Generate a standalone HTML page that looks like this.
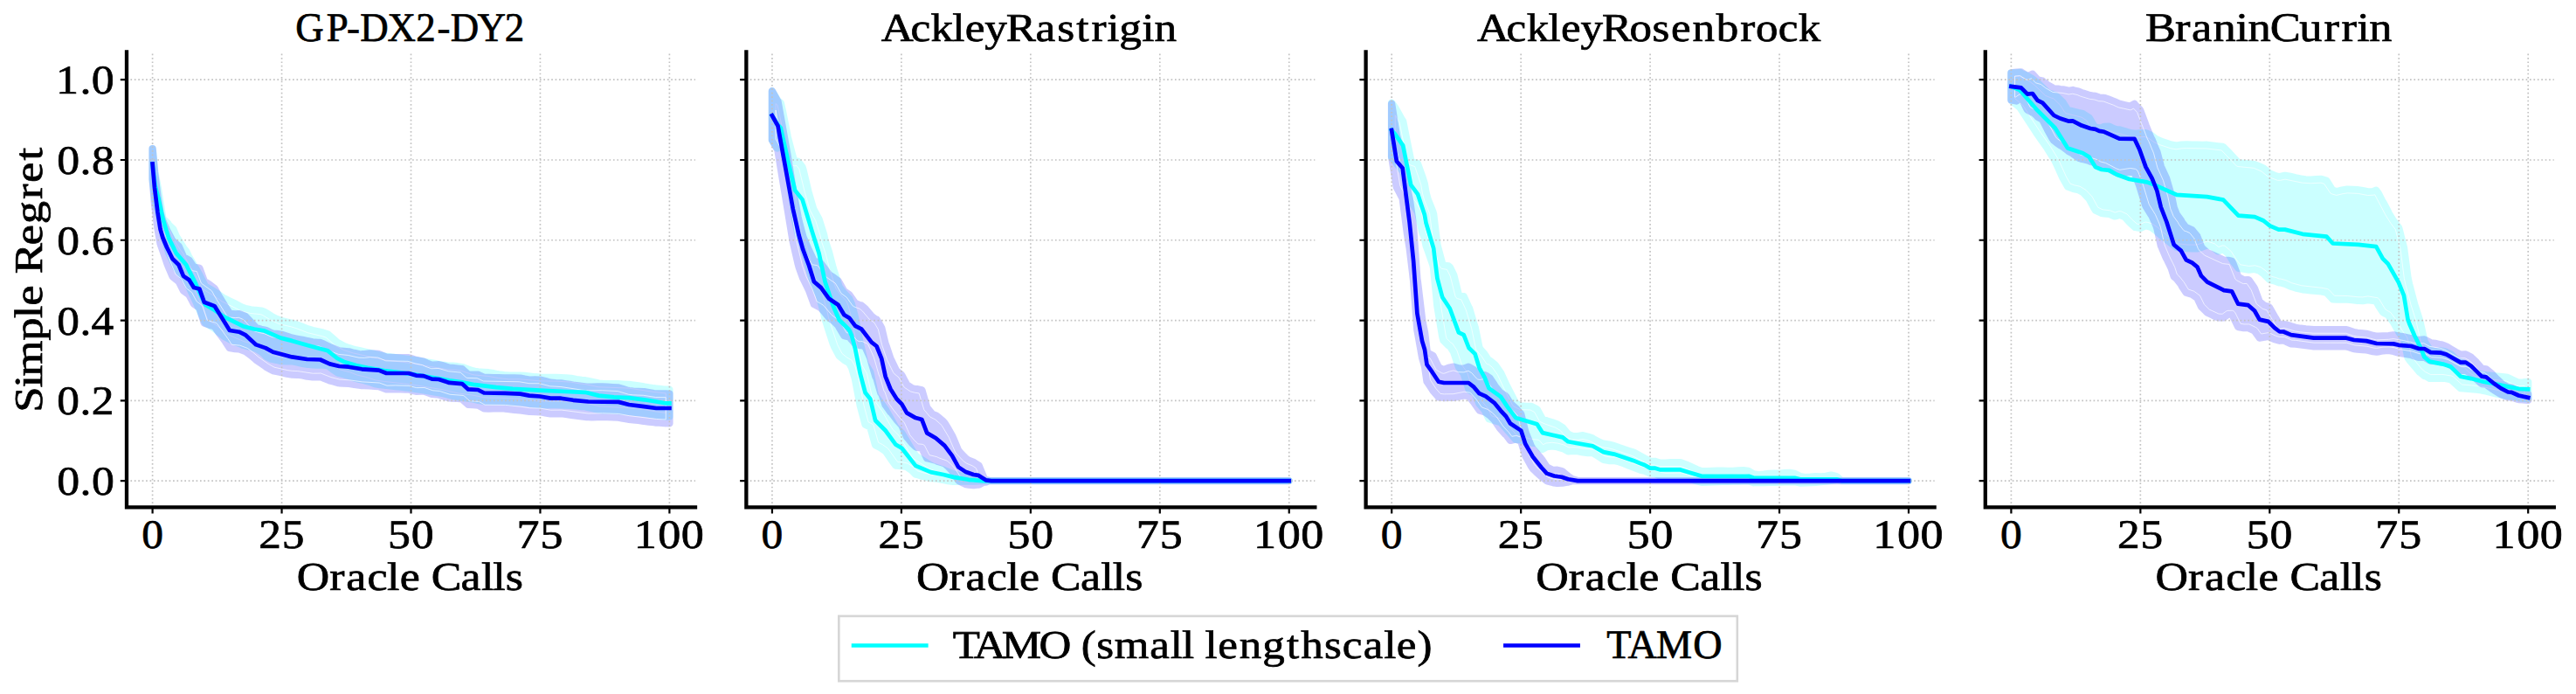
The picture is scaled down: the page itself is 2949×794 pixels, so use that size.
<!DOCTYPE html>
    <html lang="en"><head><meta charset="utf-8"><title>Simple Regret vs Oracle Calls</title>
    <style>html,body{margin:0;padding:0;background:#fff;}body{width:2949px;height:794px;overflow:hidden;font-family:"Liberation Serif",serif;}svg text{white-space:pre;text-rendering:geometricPrecision;}</style>
    </head><body>
    <svg width="2949" height="794" viewBox="0 0 2949 794" font-family="'Liberation Serif', serif" fill="#000" stroke="#000" stroke-width="0.7" style="display:block">
<rect x="0" y="0" width="2949" height="794" fill="#fff" stroke="none"/>
<g>
<path d="M174.6 170.06 L177.5 198.32 L180.52 213.66 L181.2 217.35 L186.44 250.06 L186.6 250.41 L192.35 255.74 L193.1 257.4 L198.27 262.03 L201.8 270.53 L204.19 274.32 L210.11 283.79 L213.2 287.64 L216.03 293.52 L221.94 303.64 L224 306.88 L227.86 313.74 L233.78 325.32 L234.8 327.54 L239.7 330.33 L245.6 333.92 L245.62 333.93 L251.53 338.01 L256.5 341.4 L257.45 341.86 L263.37 344.73 L265.1 345.56 L269.29 347.59 L275.21 350.6 L278.1 352.11 L281.12 352.95 L287.04 354.33 L291 354.85 L292.96 354.92 L298.88 355.53 L301.8 356.42 L304.8 358.15 L310.71 361.85 L316.63 364.86 L321.3 366.87 L322.55 367.18 L328.47 368.46 L334.3 369.8 L334.39 369.83 L340.3 371.62 L346.22 373.93 L352.14 376.28 L353.7 376.77 L358.06 378.04 L363.98 379.22 L369.89 380.67 L375.3 382.45 L375.81 382.9 L381.73 387.99 L386.1 391.78 L387.65 392.64 L393.57 395.89 L394.8 396.55 L399.48 398.11 L405.4 399.9 L407.7 400.44 L411.32 401.02 L417.24 402.43 L420.7 403.34 L423.16 403.88 L429.07 405.17 L434.99 406.46 L435.8 406.64 L440 407.54 L440.91 407.68 L446.83 408.41 L452.75 409.1 L458.66 409.83 L464.58 410.56 L467.7 410.92 L470.5 411.38 L476.42 412.4 L482.34 413.42 L488.25 414.39 L494.17 415.41 L500.09 416.43 L500.5 416.5 L506.01 417.53 L511.93 418.45 L514.4 418.65 L517.84 418.77 L523.76 419.25 L529 420.13 L529.68 420.27 L535.6 422.45 L541.52 424.4 L543.8 424.84 L547.43 425.31 L553.35 425.83 L559.27 426.27 L565.19 427.21 L568 427.83 L571.11 428.42 L577.02 429.22 L582.94 429.71 L587 429.75 L588.86 429.72 L594.78 429.6 L600.7 429.94 L606.61 430.56 L612.53 431.27 L618.1 431.68 L618.45 431.7 L624.37 431.89 L630.29 431.85 L636.2 431.95 L642.12 432.23 L647.5 432.49 L648.04 432.51 L653.96 432.95 L659.88 434.08 L665.79 434.97 L670 435.22 L671.71 435.68 L677.63 436.86 L683.55 438.17 L685.5 438.62 L689.47 438.97 L695.38 439.08 L701.3 439.05 L702.8 439.18 L707.22 439.28 L713.14 439.55 L719.06 439.87 L720.1 439.92 L724.97 440.51 L730.89 441.41 L736.81 442.41 L737.4 442.49 L742.73 443.41 L748.65 444.26 L751.3 444.53 L754.56 444.93 L760.48 445.59 L761.6 445.77 L766.4 445.7 L766.4 476.44 L761.6 476.59 L760.48 476.43 L754.56 475.67 L751.3 475.13 L748.65 474.73 L742.73 473.7 L737.4 472.65 L736.81 472.56 L730.89 472.02 L724.97 471.49 L720.1 470.93 L719.06 470.89 L713.14 470.57 L707.22 470.07 L702.8 469.86 L701.3 469.71 L695.38 469.55 L689.47 469.3 L685.5 468.92 L683.55 468.46 L677.63 467.01 L671.71 465.6 L670 465.17 L665.79 464.99 L659.88 464.46 L653.96 463.83 L648.04 463.53 L647.5 463.51 L642.12 463.25 L636.2 463.06 L630.29 463.1 L624.37 463.28 L618.45 463.14 L618.1 463.11 L612.53 462.71 L606.61 461.63 L600.7 460.69 L594.78 460.3 L588.86 460.1 L587 460.1 L582.94 459.99 L577.02 459.69 L571.11 459.3 L568 459.36 L565.19 459.33 L559.27 459.31 L553.35 458.78 L547.43 457.84 L543.8 457.04 L541.52 456.38 L535.6 455.54 L529.68 454.88 L529 454.75 L523.76 454.04 L517.84 452.82 L514.4 451.95 L511.93 451.22 L506.01 449.93 L500.5 448.9 L500.09 448.83 L494.17 447.9 L488.25 446.97 L482.34 446 L476.42 445.07 L470.5 444.14 L467.7 443.68 L464.58 443.32 L458.66 442.68 L452.75 442.05 L446.83 441.36 L440.91 440.73 L440 440.66 L435.8 440.16 L434.99 440.06 L429.07 439.08 L423.16 436.92 L420.7 436.27 L417.24 435.2 L411.32 434.02 L407.7 433.07 L405.4 432.3 L399.48 429.82 L394.8 428.77 L393.57 428.24 L387.65 426.78 L386.1 426.17 L381.73 423.09 L375.81 418.55 L375.3 418.22 L369.89 417.56 L363.98 417.67 L358.06 417.23 L353.7 416.94 L352.14 416.8 L346.22 415.92 L340.3 414.53 L334.39 413.1 L334.3 413.1 L328.47 413.38 L322.55 413.21 L321.3 413.09 L316.63 411.8 L310.71 410.72 L304.8 407.81 L301.8 404.49 L298.88 402.06 L292.96 398.65 L291 398.22 L287.04 396.96 L281.12 395.36 L278.1 394.68 L275.21 393.32 L269.29 391.05 L265.1 389.15 L263.37 388.37 L257.45 385.32 L256.5 384.75 L251.53 380.82 L245.62 375.88 L245.6 375.86 L239.7 372.05 L234.8 369.07 L233.78 366.8 L227.86 353.16 L224 344.26 L221.94 339.94 L216.03 327.52 L213.2 321.6 L210.11 317.71 L204.19 310.2 L201.8 307.17 L198.27 299.8 L193.1 289 L192.35 286.43 L186.6 267.63 L186.44 266.91 L181.2 243.09 L180.52 240.54 L177.5 229.28 L174.6 204.94Z" fill="#00ffff" stroke="#00ffff" stroke-width="8.33" stroke-linejoin="round" opacity="0.2"/>
<path d="M188.77 258.09 L190.63 266.57 L197 287.5 L205.36 304.96 L216.96 319.8 L227.76 342.47 L238.07 366.18 L248.14 372.56 L259.47 381.67 L270.9 387.21 L279.46 390.71 L294.66 394.85 L301.26 398.65 L304.46 401.29 L307.35 404.42 L312.03 406.73 L322.82 409.05 L334.88 408.96 L347 411.82 L352.63 412.66 L364.1 413.5 L370.39 413.43 L376.18 414.15 L378.1 415.07 L388.92 422.8 L400.75 425.85 L408.89 429.07 L418.47 431.22 L430.13 435.04 L440.39 436.51 L468.18 439.55 L482.99 441.89 L506.78 445.84 L524.46 449.93 L542.11 452.26 L553.86 454.65 L559.46 455.14 L571.39 455.15 L600.97 456.54 L613.06 458.57 L618.63 458.98 L642.25 459.09 L670.18 461.01 L686.18 464.8 L720.26 466.77 L737.18 468.41 L749.32 470.62 L762.24 472.41 L762.24 449.93 L748.06 448.38 L719.75 444.07 L685.13 442.77 L669.33 439.36 L665.16 439.09 L653.41 437.08 L636.07 436.11 L618.19 435.86 L594.7 433.77 L582.6 433.86 L570.55 432.55 L558.79 430.41 L543.27 428.98 L540.22 428.35 L528.52 424.29 L523.25 423.39 L511.29 422.57 L467.12 415.04 L439.13 411.61 L404.46 403.96 L393.48 400.5 L383.71 395.19 L373.2 386.15 L368.74 384.67 L352.46 380.74 L338.94 375.56 L333.27 373.84 L319.96 370.81 L308.82 365.56 L300.13 360.26 L298.05 359.63 L286.5 358.46 L276.57 355.98 L254.68 345.15 L243.33 337.41 L232.38 330.93 L231.21 329.66 L224.19 315.71 L212.43 295.61 L209.65 289.87 L206.58 286 L198.1 272.44 L194.79 264.5 L190.01 260.2Z" fill="none" stroke="#fff" stroke-width="0.9" stroke-opacity="0.75" stroke-linejoin="round"/>
<path d="M174.6 170.06 L177 197.23 L180.5 224.74 L180.52 224.86 L183.5 243.34 L186.4 252.96 L186.44 253.05 L191 263.35 L192.35 265.92 L197.4 275.47 L198.27 276.2 L204.19 281.35 L204.6 281.71 L210 294.02 L210.11 294.08 L216.03 297.5 L216.5 297.77 L221.9 305.82 L221.94 305.83 L227.86 306.73 L228.4 306.84 L233.78 321.61 L233.8 321.67 L239.7 325.46 L245.6 329.99 L245.62 330.03 L251.53 340.48 L257.45 350.07 L262.9 358.82 L263.37 358.89 L269.29 359.46 L273.7 359.09 L275.21 359.46 L281.12 362.16 L281.3 362.27 L287.04 368.42 L292.96 374.86 L293.2 375.07 L298.88 376.75 L304 377.79 L304.8 378.12 L310.71 380.93 L312.6 381.61 L316.63 381.88 L321.3 382.63 L322.55 382.84 L328.47 384.66 L334.3 386.69 L334.39 386.71 L340.3 387.74 L346.22 388.82 L351.5 390.11 L352.14 390.19 L358.06 391.3 L363.98 391.82 L366.7 391.93 L369.89 393.4 L375.81 396.18 L377.5 397.15 L381.73 398.7 L387.65 401.08 L388.3 401.27 L393.57 401.81 L399 402.3 L399.48 402.39 L405.4 403.91 L411.32 405.06 L414.2 405.28 L417.24 405.2 L423.16 404.5 L429.07 404.61 L433.7 404.99 L434.99 405.52 L440.91 408.09 L442.3 408.7 L446.83 408.87 L452.75 409.1 L458.66 409.15 L464.58 409.15 L467.7 409.17 L470.5 410.04 L476.3 411.88 L476.42 411.89 L482.34 413.11 L485 413.63 L488.25 415.28 L494.17 417.55 L494.5 417.65 L500.09 417.41 L502.3 417.27 L506.01 418.03 L511.93 419.9 L514.4 420.69 L517.84 420.97 L523.76 421.6 L529 422.11 L529.68 422.73 L535.6 428.06 L536 428.41 L541.52 428.58 L547.2 428.57 L547.43 428.68 L553.35 431.54 L554.1 431.92 L559.27 432.01 L565.19 432.15 L571.11 432.25 L577.02 432.35 L578.3 432.34 L582.94 432.42 L588.86 432.48 L594.78 432.62 L595.6 432.66 L600.7 433.68 L606 434.54 L606.61 434.56 L612.53 434.36 L618.1 434.6 L618.45 434.65 L624.37 435.96 L630.2 437.69 L630.29 437.7 L636.2 438.26 L642.12 438.35 L642.3 438.35 L648.04 439.27 L653.96 440.22 L656.1 440.63 L659.88 441.15 L665.79 441.91 L671.71 442.54 L673.4 442.68 L677.63 442.66 L683.55 442.5 L689.47 442.52 L695.38 442.77 L701.3 443.12 L707.22 443.37 L708 443.42 L713.14 445.02 L719.06 446.86 L720.1 447.12 L724.97 447.71 L730.89 447.88 L736.81 448.14 L737.4 448.23 L742.73 449.12 L748.65 450.07 L751.3 450.43 L754.56 450.43 L760.48 450.48 L766.4 450.57 L766.4 484.39 L760.48 484.07 L754.56 483.66 L751.3 483.61 L748.65 483.2 L742.73 482.53 L737.4 481.93 L736.81 481.87 L730.89 480.97 L724.97 480.25 L720.1 479.85 L719.06 479.62 L713.14 478.75 L708 477.59 L707.22 477.6 L701.3 477.44 L695.38 477.1 L689.47 476.94 L683.55 477.1 L677.63 477.22 L673.4 477.2 L671.71 477.05 L665.79 476.37 L659.88 475.56 L656.1 475.13 L653.96 474.77 L648.04 473.92 L642.3 473.22 L642.12 473.23 L636.2 473.41 L630.29 473.41 L630.2 473.41 L624.37 472.39 L618.45 471.27 L618.1 471.23 L612.53 471.12 L606.61 470.91 L606 470.89 L600.7 470.12 L595.6 469.3 L594.78 469.29 L588.86 468.87 L582.94 468.03 L578.3 467.56 L577.02 467.45 L571.11 467.36 L565.19 467.44 L559.27 467.53 L554.1 467.32 L553.35 466.92 L547.43 463.6 L547.2 463.48 L541.52 463.04 L536 462.83 L535.6 462.48 L529.68 457.06 L529 456.44 L523.76 455.92 L517.84 455.53 L514.4 455.41 L511.93 454.73 L506.01 452.82 L502.3 451.48 L500.09 451.28 L494.5 450.86 L494.17 450.73 L488.25 448.6 L485 447.55 L482.34 447.52 L476.42 447.83 L476.3 447.82 L470.5 446.34 L467.7 445.49 L464.58 445.49 L458.66 445.31 L452.75 445.08 L446.83 445.26 L442.3 445.37 L440.91 444.85 L434.99 442.65 L433.7 442.13 L429.07 441.79 L423.16 441.39 L417.24 441.13 L414.2 441.03 L411.32 440.62 L405.4 439.79 L399.48 438.96 L399 438.89 L393.57 438.66 L388.3 438.28 L387.65 438.12 L381.73 436.46 L377.5 435.51 L375.81 434.77 L369.89 432.31 L366.7 431.16 L363.98 431.33 L358.06 431.41 L352.14 430.62 L351.5 430.56 L346.22 429.48 L340.3 428.72 L334.39 428.51 L334.3 428.51 L328.47 427.71 L322.55 426.3 L321.3 426.02 L316.63 425.02 L312.6 424.13 L310.71 423.15 L304.8 419.78 L304 419.06 L298.88 415.48 L293.2 411.69 L292.96 411.39 L287.04 406.28 L281.3 402.04 L281.12 401.99 L275.21 399.8 L273.7 399.23 L269.29 399.01 L263.37 398.17 L262.9 398.14 L257.45 389.82 L251.53 381.87 L245.62 373.31 L245.6 373.28 L239.7 371.63 L233.8 369.52 L233.78 369.47 L228.4 352.2 L227.86 351.84 L221.94 347.68 L221.9 347.66 L216.5 337.42 L216.03 336.96 L210.11 332.59 L210 332.56 L204.6 321.96 L204.19 321.74 L198.27 317.08 L197.4 315.95 L192.35 304.05 L191 300.49 L186.44 286.83 L186.4 286.75 L183.5 278.6 L180.52 261.62 L180.5 261.49 L177 232.87 L174.6 204.94Z" fill="#0000ff" stroke="#0000ff" stroke-width="8.33" stroke-linejoin="round" opacity="0.2"/>
<path d="M184.34 258.6 L187.54 277.53 L194.92 299.09 L201.03 313.83 L207.86 319.37 L213.22 329.71 L219.71 334.76 L225.11 344.82 L231.85 349.86 L237.16 366.3 L247.12 369.4 L248.54 370.32 L260.79 387.33 L265.33 394.24 L274.76 395.2 L283.38 398.43 L289.76 403.13 L296.01 408.56 L307.25 416.39 L314.03 420.18 L329.24 423.61 L334.65 424.35 L340.83 424.59 L358.31 427.24 L367.29 427.04 L378.81 431.53 L388.96 434.15 L399.61 434.77 L414.56 436.87 L434.43 438.03 L443 441.19 L452.91 440.92 L468.11 441.35 L476.74 443.64 L485.87 443.48 L495.41 446.75 L503.37 447.45 L515.04 451.26 L530.16 452.43 L531.81 453.36 L537.67 458.73 L548.36 459.48 L555.22 463.2 L578.63 463.4 L595.95 465.15 L606.36 466.74 L618.59 467.1 L630.56 469.24 L642.8 469.09 L673.6 473.04 L689.58 472.78 L708.42 473.45 L720.72 475.72 L751.65 479.45 L762.24 480 L762.24 454.67 L750.74 454.56 L736.4 452.29 L724.85 451.88 L719.6 451.26 L707.24 447.55 L689.37 446.69 L673.42 446.84 L665.35 446.05 L641.94 442.51 L629.66 441.82 L617.71 438.76 L605.82 438.7 L594.63 436.79 L553.28 436.01 L546.26 432.74 L534.67 432.36 L533.25 431.54 L527.22 426.12 L513.59 424.78 L502.01 421.46 L493.81 421.75 L486.76 419.17 L483.63 417.61 L475.04 415.85 L467.05 413.33 L441.75 412.83 L432.71 409.09 L423.37 408.67 L417.35 409.37 L411 409.21 L398.42 406.43 L387.52 405.36 L375.74 400.93 L365.71 396.05 L357.29 395.39 L333.44 390.76 L321.59 386.9 L311.56 385.65 L302.79 381.79 L297.7 380.74 L291.59 378.91 L289.89 377.68 L278.77 365.66 L273.36 363.3 L269.26 363.62 L262.97 363.04 L261.14 362.6 L259.85 361.66 L247.99 342.67 L242.39 332.78 L230.38 324.04 L225.32 310.56 L220.82 309.84 L219.31 309.08 L213.58 300.89 L207.62 297.44 L206.55 296.36 L201.16 284.24 L193.92 277.77 L187.31 265.29Z" fill="none" stroke="#fff" stroke-width="0.9" stroke-opacity="0.75" stroke-linejoin="round"/>
<path d="M174.6 580.4 V59.3 M322.55 580.4 V59.3 M470.5 580.4 V59.3 M618.45 580.4 V59.3 M766.4 580.4 V59.3 M145 550.1 H796 M145 458.32 H796 M145 366.54 H796 M145 274.76 H796 M145 182.98 H796 M145 91.2 H796" fill="none" stroke="#c2c2c2" stroke-width="1.67" stroke-dasharray="1.67 2.75"/>
<path d="M174.6 187.5 L177.5 212 L181.2 226 L186.6 250.8 L193.1 272.4 L201.8 289.7 L213.2 303 L224 324.6 L234.8 348.4 L245.6 354.8 L256.5 362.4 L265.1 366.7 L278.1 373.2 L291 376.5 L301.8 378.2 L321.3 386.6 L334.3 389.9 L353.7 395.5 L375.3 401.3 L386.1 410 L394.8 414.3 L407.7 418 L420.7 420.8 L435.8 423.4 L440 424.1 L467.7 427.3 L500.5 432.7 L514.4 435.3 L529 437.4 L543.8 440.2 L568 443.1 L587 444.8 L618.1 446.6 L647.5 448 L670 448.8 L685.5 452.6 L702.8 454.4 L720.1 455.2 L737.4 457.3 L751.3 459.5 L761.6 461.3 L766.4 461.3" fill="none" stroke="#00ffff" stroke-width="4.7" stroke-linejoin="round" stroke-linecap="square"/>
<path d="M174.6 187.5 L177 215 L180.5 243 L183.5 262 L186.4 272 L191 283 L197.4 296 L204.6 303 L210 315.9 L216.5 320.3 L221.9 328.9 L228.4 330.6 L233.8 345.8 L245.6 350.1 L262.9 378 L273.7 379.7 L281.3 383.4 L293.2 394.4 L304 398.1 L312.6 402.8 L321.3 405 L334.3 408.4 L351.5 411 L366.7 411.5 L377.5 416.4 L388.3 419 L399 419.7 L414.2 422.3 L433.7 423.6 L442.3 427 L467.7 427 L476.3 429.6 L485 430.1 L494.5 433.6 L502.3 434 L514.4 437.9 L529 439.1 L536 445.4 L547.2 446 L554.1 449.5 L578.3 449.9 L595.6 450.6 L606 452.6 L618.1 453.5 L630.2 455.6 L642.3 455.7 L656.1 457.8 L673.4 459.5 L708 459.9 L720.1 463 L737.4 465.1 L751.3 467 L766.4 467" fill="none" stroke="#0000ff" stroke-width="4.7" stroke-linejoin="round" stroke-linecap="square"/>
<path d="M174.6 580.4 v7.2 M322.55 580.4 v7.2 M470.5 580.4 v7.2 M618.45 580.4 v7.2 M766.4 580.4 v7.2 M145 550.1 h-7.2 M145 458.32 h-7.2 M145 366.54 h-7.2 M145 274.76 h-7.2 M145 182.98 h-7.2 M145 91.2 h-7.2" fill="none" stroke="#000" stroke-width="2.2"/>
<path d="M145 59.3 V580.4 H796" fill="none" stroke="#000" stroke-width="4.3" stroke-linecap="square" stroke-linejoin="miter"/>
<text transform="translate(174.6 627.2) scale(1.0642 1)" font-size="46.52" x="-11.66">0</text>
<text transform="translate(322.55 627.2) scale(1.0989 1)" font-size="46.7" x="-24.04 0.14">25</text>
<text transform="translate(470.5 627.2) scale(1.1109 1)" font-size="46.52" x="-23.81 0.28">50</text>
<text transform="translate(618.45 627.2) scale(1.1178 1)" font-size="46.44" x="-24.13 0">75</text>
<text transform="translate(766.4 627.2) scale(1.1203 1)" font-size="46.52" x="-36.28 -11.65 12.01">100</text>
<text transform="translate(470.5 675) scale(1.1388 1)" font-size="45.56" x="-114.85 -81.88 -65.2 -44 -24.11 -11.31 9.76 20.43 50.09 70.69 82.39 95.13">Oracle Calls</text>
<text transform="translate(470.5 47.2) scale(0.9622 1)" font-size="46.7" x="-137.55 -100.43 -76.44 -60.55 -28.14 5.97 31.29 47.17 78.87 111.45">GP-DX2-DY2</text>
<text transform="translate(131.1 566.25) scale(1.1129 1)" font-size="46.52" x="-59.29 -35.55 -23.57">0.0</text>
<text transform="translate(131.1 474.47) scale(1.1045 1)" font-size="46.52" x="-59.65 -35.77 -23.93">0.2</text>
<text transform="translate(131.1 382.69) scale(1.1032 1)" font-size="46.52" x="-59.71 -35.81 -24.17">0.4</text>
<text transform="translate(131.1 290.91) scale(1.1077 1)" font-size="46.52" x="-59.51 -35.69 -23.82">0.6</text>
<text transform="translate(131.1 199.13) scale(1.1129 1)" font-size="46.52" x="-59.29 -35.55 -23.52">0.8</text>
<text transform="translate(131.1 107.35) scale(1.1165 1)" font-size="46.52" x="-60.1 -35.45 -23.53">1.0</text>
<text transform="translate(48 319.85) rotate(-90) scale(1.1581 1)" font-size="45.56" x="-131.27 -106.7 -95.45 -60.39 -38.26 -25.74 -4.85 5.79 34.08 54.94 79.36 95.61 117.66">Simple Regret</text>
</g>
<g>
<path d="M883.9 104.21 L883.95 104.29 L889.87 114.25 L890.5 115.19 L893.8 117.9 L895.79 126.61 L901.7 156.37 L902.4 159.23 L907.62 179.25 L910 185.75 L913.54 184.74 L918.6 191.37 L919.46 194.23 L921.9 204.43 L925.38 219.06 L929.6 233.7 L931.29 239.34 L937.21 250.26 L937.6 250.91 L943.13 268.57 L944.5 274.99 L949.05 288.68 L953.7 306.59 L954.97 310.62 L960.7 328.32 L960.88 328.64 L966.8 336.21 L972.2 341.61 L972.72 342.82 L975 348.22 L978.64 361.86 L979 363.25 L984.56 391.95 L984.8 393.21 L990.47 415.96 L990.6 416.49 L996.3 425.86 L996.39 426.27 L1002.1 452.56 L1002.31 452.85 L1008.23 461.02 L1013.6 468.43 L1014.15 469.39 L1020.06 479.74 L1025.2 488.74 L1025.98 489.5 L1031.9 495.28 L1032.4 495.77 L1037.82 504.76 L1043.74 514.58 L1048.2 521.53 L1049.65 522.53 L1055.57 526.33 L1061.49 530.13 L1065.5 532.63 L1067.41 533.42 L1073.33 535.43 L1079.24 537.48 L1080 537.74 L1085.16 539.76 L1091.08 542.12 L1091.5 542.27 L1097 543.75 L1102.92 545.38 L1108.8 546.96 L1108.83 546.97 L1114.75 548.01 L1120.67 549.1 L1126 550.04 L1126.59 550.1 L1132.51 550.1 L1138.42 550.1 L1144.34 550.1 L1150.26 550.1 L1156.18 550.1 L1162.1 550.1 L1168.01 550.1 L1173.93 550.1 L1179.85 550.1 L1185.77 550.1 L1191.69 550.1 L1197.6 550.1 L1203.52 550.1 L1209.44 550.1 L1215.36 550.1 L1221.28 550.1 L1227.19 550.1 L1233.11 550.1 L1239.03 550.1 L1244.95 550.1 L1250.87 550.1 L1256.78 550.1 L1262.7 550.1 L1268.62 550.1 L1274.54 550.1 L1280.46 550.1 L1286.37 550.1 L1292.29 550.1 L1298.21 550.1 L1304.13 550.1 L1310.05 550.1 L1315.96 550.1 L1321.88 550.1 L1327.8 550.1 L1333.72 550.1 L1339.64 550.1 L1345.55 550.1 L1351.47 550.1 L1357.39 550.1 L1363.31 550.1 L1369.23 550.1 L1375.14 550.1 L1381.06 550.1 L1386.98 550.1 L1392.9 550.1 L1398.82 550.1 L1404.73 550.1 L1410.65 550.1 L1416.57 550.1 L1422.49 550.1 L1428.41 550.1 L1434.32 550.1 L1440.24 550.1 L1446.16 550.1 L1452.08 550.1 L1458 550.1 L1463.91 550.1 L1469.83 550.1 L1475.7 550.1 L1475.7 550.1 L1469.83 550.1 L1463.91 550.1 L1458 550.1 L1452.08 550.1 L1446.16 550.1 L1440.24 550.1 L1434.32 550.1 L1428.41 550.1 L1422.49 550.1 L1416.57 550.1 L1410.65 550.1 L1404.73 550.1 L1398.82 550.1 L1392.9 550.1 L1386.98 550.1 L1381.06 550.1 L1375.14 550.1 L1369.23 550.1 L1363.31 550.1 L1357.39 550.1 L1351.47 550.1 L1345.55 550.1 L1339.64 550.1 L1333.72 550.1 L1327.8 550.1 L1321.88 550.1 L1315.96 550.1 L1310.05 550.1 L1304.13 550.1 L1298.21 550.1 L1292.29 550.1 L1286.37 550.1 L1280.46 550.1 L1274.54 550.1 L1268.62 550.1 L1262.7 550.1 L1256.78 550.1 L1250.87 550.1 L1244.95 550.1 L1239.03 550.1 L1233.11 550.1 L1227.19 550.1 L1221.28 550.1 L1215.36 550.1 L1209.44 550.1 L1203.52 550.1 L1197.6 550.1 L1191.69 550.1 L1185.77 550.1 L1179.85 550.1 L1173.93 550.1 L1168.01 550.1 L1162.1 550.1 L1156.18 550.1 L1150.26 550.1 L1144.34 550.1 L1138.42 550.1 L1132.51 550.1 L1126.59 550.1 L1126 550.16 L1120.67 550.29 L1114.75 550.49 L1108.83 550.64 L1108.8 550.64 L1102.92 550.52 L1097 550.81 L1091.5 550.79 L1091.08 550.75 L1085.16 550.08 L1080 549.02 L1079.24 548.91 L1073.33 547.63 L1067.41 547.09 L1065.5 547.09 L1061.49 546.23 L1055.57 544.73 L1049.65 542.87 L1048.2 542.63 L1043.74 538.07 L1037.82 534.04 L1032.4 532.82 L1031.9 533.05 L1025.98 532.64 L1025.2 532.18 L1020.06 525.17 L1014.15 516.57 L1013.6 515.98 L1008.23 512.23 L1002.31 509.29 L1002.1 509.22 L996.39 488.91 L996.3 488.6 L990.6 485.78 L990.47 485.39 L984.8 464.23 L984.56 463.03 L979 433.95 L978.64 432.53 L975 420.56 L972.72 416.2 L972.2 415.21 L966.8 412.12 L960.88 407.25 L960.7 407.15 L954.97 396.2 L953.7 393.17 L949.05 378.89 L944.5 364.65 L943.13 358.05 L937.6 337.83 L937.21 336.99 L931.29 324.87 L929.6 319.15 L925.38 304.28 L921.9 291.72 L919.46 282.98 L918.6 279.35 L913.54 268.21 L910 250.84 L907.62 231.97 L902.4 195.64 L901.7 190.61 L895.79 165.02 L893.8 162.01 L890.5 168.77 L889.87 169.63 L883.95 160.27 L883.9 160.19Z" fill="#00ffff" stroke="#00ffff" stroke-width="8.33" stroke-linejoin="round" opacity="0.2"/>
<path d="M888.06 118.58 L888.06 158.99 L889.52 161.29 L890.5 159.47 L891.75 158.39 L893.32 157.87 L894.97 158.01 L896.75 159.07 L898.84 162.08 L890.06 120.22Z M903.6 180.34 L905.83 190.03 L914.11 250.16 L917.53 266.92 L922.54 278 L935.19 323.36 L941.51 336.39 L947.15 356.95 L948.53 363.59 L958.74 394.42 L963.96 404.39 L969.17 408.68 L975.2 412.32 L978.85 418.98 L983.04 432.93 L988.86 463.28 L994.11 482.87 L998.53 485.08 L999.98 486.65 L1005.6 506.28 L1010.35 508.65 L1016.64 513.13 L1027.73 528.58 L1032.93 528.69 L1039.48 530.22 L1046.41 534.88 L1050.22 538.74 L1056.71 540.72 L1065.94 542.93 L1073.71 543.48 L1085.81 545.97 L1091.63 546.62 L1063.6 536.34 L1045.2 524.42 L1029.11 498.38 L1021.79 491.13 L1010.1 470.69 L998.49 454.64 L992.38 427.42 L986.55 417.48 L980.71 393.99 L974.94 364.17 L971.05 349.57 L968.69 343.99 L963.52 338.78 L956.89 329.99 L949.73 307.85 L945.05 289.86 L940.55 276.3 L939.1 269.63 L933.77 252.63 L927.3 240.53 L921.38 220.22 L914.83 193.29 L911.96 189.53 L909.09 189.82 L906.95 188.59 L906.09 187.18Z" fill="none" stroke="#fff" stroke-width="0.9" stroke-opacity="0.75" stroke-linejoin="round"/>
<path d="M883.9 104.21 L883.95 104.3 L889.87 114.93 L890.5 116.06 L895.79 145.21 L901.7 178.46 L907.62 215.91 L907.8 217.07 L913.54 248.09 L914.6 253.05 L919.2 270.36 L919.46 271.13 L925.38 285.21 L926.1 286.4 L931.29 297.51 L931.9 299 L937.21 299.71 L939.9 301.82 L943.13 306.02 L949.05 314.15 L949.1 314.22 L954.97 318.07 L959.5 321.29 L960.88 323.65 L966.4 333.23 L966.8 333.5 L972.2 337.14 L972.72 337.87 L978.64 346.36 L979.1 346.94 L984.56 349.25 L986 349.32 L990.47 353.14 L996.39 360.13 L997.8 361.93 L1002.31 365.34 L1003.5 365.33 L1008.23 373.37 L1009.3 375.47 L1013.6 393.44 L1014.15 394.52 L1019.4 410.2 L1020.06 411.59 L1025.98 423.71 L1026.6 424.58 L1031.9 428.85 L1032.4 429.41 L1037.82 439.6 L1038.1 440.13 L1043.74 444.01 L1048.2 445.18 L1049.65 445.14 L1055.4 446.38 L1055.57 446.82 L1061.2 466.3 L1061.49 466.7 L1067.41 473.82 L1071.3 475.3 L1073.33 476.65 L1079.24 481.65 L1081.4 484.03 L1085.16 489.96 L1090 498.46 L1091.08 500.86 L1097 515.04 L1097.2 515.49 L1102.92 521.72 L1105.9 524.67 L1108.83 526.63 L1114.5 528.9 L1114.75 528.95 L1120.3 532.44 L1120.67 532.84 L1126.59 547.37 L1129 549.1 L1132.51 549.83 L1134.7 550.1 L1138.42 550.1 L1144.34 550.1 L1150.26 550.1 L1156.18 550.1 L1162.1 550.1 L1168.01 550.1 L1173.93 550.1 L1179.85 550.1 L1185.77 550.1 L1191.69 550.1 L1197.6 550.1 L1203.52 550.1 L1209.44 550.1 L1215.36 550.1 L1221.28 550.1 L1227.19 550.1 L1233.11 550.1 L1239.03 550.1 L1244.95 550.1 L1250.87 550.1 L1256.78 550.1 L1262.7 550.1 L1268.62 550.1 L1274.54 550.1 L1280.46 550.1 L1286.37 550.1 L1292.29 550.1 L1298.21 550.1 L1304.13 550.1 L1310.05 550.1 L1315.96 550.1 L1321.88 550.1 L1327.8 550.1 L1333.72 550.1 L1339.64 550.1 L1345.55 550.1 L1351.47 550.1 L1357.39 550.1 L1363.31 550.1 L1369.23 550.1 L1375.14 550.1 L1381.06 550.1 L1386.98 550.1 L1392.9 550.1 L1398.82 550.1 L1404.73 550.1 L1410.65 550.1 L1416.57 550.1 L1422.49 550.1 L1428.41 550.1 L1434.32 550.1 L1440.24 550.1 L1446.16 550.1 L1452.08 550.1 L1458 550.1 L1463.91 550.1 L1469.83 550.1 L1475.7 550.1 L1475.7 550.1 L1469.83 550.1 L1463.91 550.1 L1458 550.1 L1452.08 550.1 L1446.16 550.1 L1440.24 550.1 L1434.32 550.1 L1428.41 550.1 L1422.49 550.1 L1416.57 550.1 L1410.65 550.1 L1404.73 550.1 L1398.82 550.1 L1392.9 550.1 L1386.98 550.1 L1381.06 550.1 L1375.14 550.1 L1369.23 550.1 L1363.31 550.1 L1357.39 550.1 L1351.47 550.1 L1345.55 550.1 L1339.64 550.1 L1333.72 550.1 L1327.8 550.1 L1321.88 550.1 L1315.96 550.1 L1310.05 550.1 L1304.13 550.1 L1298.21 550.1 L1292.29 550.1 L1286.37 550.1 L1280.46 550.1 L1274.54 550.1 L1268.62 550.1 L1262.7 550.1 L1256.78 550.1 L1250.87 550.1 L1244.95 550.1 L1239.03 550.1 L1233.11 550.1 L1227.19 550.1 L1221.28 550.1 L1215.36 550.1 L1209.44 550.1 L1203.52 550.1 L1197.6 550.1 L1191.69 550.1 L1185.77 550.1 L1179.85 550.1 L1173.93 550.1 L1168.01 550.1 L1162.1 550.1 L1156.18 550.1 L1150.26 550.1 L1144.34 550.1 L1138.42 550.1 L1134.7 550.1 L1132.51 549.83 L1129 551.49 L1126.59 551.41 L1120.67 554.51 L1120.3 554.38 L1114.75 555.15 L1114.5 555.17 L1108.83 554.49 L1105.9 554.09 L1102.92 552.74 L1097.2 549.7 L1097 549.37 L1091.08 540.24 L1090 538.58 L1085.16 533.42 L1081.4 530.35 L1079.24 529.61 L1073.33 527.77 L1071.3 526.67 L1067.41 525.67 L1061.49 524.29 L1061.2 524.3 L1055.57 512.86 L1055.4 512.44 L1049.65 511.91 L1048.2 510.93 L1043.74 506.65 L1038.1 499.88 L1037.82 499.21 L1032.4 486.79 L1031.9 486.03 L1026.6 480.4 L1025.98 479.37 L1020.06 471.76 L1019.4 471.39 L1014.15 463.85 L1013.6 463.4 L1009.3 450.34 L1008.23 449.45 L1003.5 432.8 L1002.31 430.65 L997.8 415.41 L996.39 409.92 L990.47 396.65 L986 394.63 L984.56 395.14 L979.1 393.42 L978.64 392.89 L972.72 386.05 L972.2 385.55 L966.8 384.26 L966.4 384.03 L960.88 374.95 L959.5 372.2 L954.97 367.72 L949.1 363.33 L949.05 363.25 L943.13 356.14 L939.9 352.43 L937.21 350.74 L931.9 348.13 L931.29 346.42 L926.1 332.37 L925.38 330.78 L919.46 318.76 L919.2 318.25 L914.6 305.47 L913.54 301.56 L907.8 276.63 L907.62 275.65 L901.7 239.86 L895.79 204.41 L890.5 172.26 L889.87 170.78 L883.95 160.28 L883.9 160.19Z" fill="#0000ff" stroke="#0000ff" stroke-width="8.33" stroke-linejoin="round" opacity="0.2"/>
<path d="M888.06 125.97 L888.06 159.1 L893.5 168.73 L894.61 171.59 L911.88 275.79 L918.58 304.22 L923.03 316.59 L929.9 330.66 L935.25 345.14 L939.43 347.21 L942.76 349.4 L952.02 360.31 L957.47 364.39 L962.43 369.24 L969.15 380.54 L973.6 381.63 L974.76 382.27 L981.48 389.8 L984.48 390.75 L985.78 390.47 L987.34 390.69 L992.57 393.05 L993.84 394.2 L1000.32 408.54 L1006.18 429.03 L1007.51 431.66 L1011.88 447.07 L1013.26 449.03 L1017.2 461.03 L1022.28 468.24 L1029.94 477.87 L1035.38 483.74 L1041.7 497.7 L1046.79 503.81 L1051.09 507.86 L1056.19 508.35 L1058.35 509.5 L1064.02 520.61 L1072.66 522.73 L1074.96 523.92 L1084.04 527.12 L1088.2 530.57 L1093.28 536.01 L1100.13 546.54 L1107.06 550.05 L1114.53 550.98 L1119.83 550.25 L1122.66 548.76 L1117.22 535.42 L1113.04 532.79 L1106.89 530.32 L1103.26 527.89 L1093.85 517.96 L1086.28 500.35 L1078.07 486.57 L1070.82 479.99 L1064.82 477.08 L1057.81 468.72 L1052.14 449.94 L1047.53 449.29 L1042.34 447.93 L1035.42 443.32 L1034.42 442.07 L1028.98 431.85 L1023.7 427.57 L1022.59 426.12 L1015.45 411.52 L1009.55 394.41 L1005.36 376.92 L1001 369.29 L995.01 365.02 L987.51 356.09 L984.37 353.41 L977.48 350.78 L976.11 349.84 L969.25 340.17 L962.99 335.63 L956.36 324.16 L946.23 317.24 L936.92 304.77 L935.53 303.68 L930.21 302.8 L928.21 300.94 L921.54 286.82 L915.52 272.47 L910.53 253.92 L903.7 217.83 L897.59 179.15Z" fill="none" stroke="#fff" stroke-width="0.9" stroke-opacity="0.75" stroke-linejoin="round"/>
<path d="M883.95 580.4 V59.3 M1031.9 580.4 V59.3 M1179.85 580.4 V59.3 M1327.8 580.4 V59.3 M1475.75 580.4 V59.3 M854.35 550.1 H1505.35 M854.35 458.32 H1505.35 M854.35 366.54 H1505.35 M854.35 274.76 H1505.35 M854.35 182.98 H1505.35 M854.35 91.2 H1505.35" fill="none" stroke="#c2c2c2" stroke-width="1.67" stroke-dasharray="1.67 2.75"/>
<path d="M883.9 132.2 L890.5 143 L893.8 146.2 L902.4 185.1 L910 217.6 L918.6 228.4 L921.9 239.2 L929.6 264.6 L937.6 289.9 L944.5 322.2 L953.7 349.8 L960.7 366 L972.2 377.5 L975 384 L979 398.8 L984.8 427.7 L990.6 449.3 L996.3 456.5 L1002.1 481 L1013.6 492.5 L1025.2 508.4 L1032.4 512.7 L1048.2 532.9 L1065.5 540.1 L1080 543 L1091.5 545.9 L1108.8 548.8 L1126 550.1 L1475.7 550.1" fill="none" stroke="#00ffff" stroke-width="4.7" stroke-linejoin="round" stroke-linecap="square"/>
<path d="M883.9 132.2 L890.5 144 L907.8 239.2 L914.6 269.2 L919.2 285.3 L926.1 303.8 L931.9 322.2 L939.9 329.1 L949.1 341.8 L959.5 348.7 L966.4 360.2 L972.2 363.7 L979.1 372.9 L986 376.3 L997.8 391.6 L1003.5 396 L1009.3 410.4 L1013.6 430.6 L1019.4 445 L1026.6 456.5 L1032.4 462.3 L1038.1 472.4 L1048.2 478.1 L1055.4 480.1 L1061.2 495.4 L1071.3 501.2 L1081.4 509.9 L1090 521.4 L1097.2 534.4 L1105.9 540.1 L1114.5 543 L1120.3 543.9 L1129 549.4 L1134.7 550.1 L1475.7 550.1" fill="none" stroke="#0000ff" stroke-width="4.7" stroke-linejoin="round" stroke-linecap="square"/>
<path d="M883.95 580.4 v7.2 M1031.9 580.4 v7.2 M1179.85 580.4 v7.2 M1327.8 580.4 v7.2 M1475.75 580.4 v7.2 M854.35 550.1 h-7.2 M854.35 458.32 h-7.2 M854.35 366.54 h-7.2 M854.35 274.76 h-7.2 M854.35 182.98 h-7.2 M854.35 91.2 h-7.2" fill="none" stroke="#000" stroke-width="2.2"/>
<path d="M854.35 59.3 V580.4 H1505.35" fill="none" stroke="#000" stroke-width="4.3" stroke-linecap="square" stroke-linejoin="miter"/>
<text transform="translate(883.95 627.2) scale(1.0642 1)" font-size="46.52" x="-11.66">0</text>
<text transform="translate(1031.9 627.2) scale(1.0989 1)" font-size="46.7" x="-24.04 0.14">25</text>
<text transform="translate(1179.85 627.2) scale(1.1109 1)" font-size="46.52" x="-23.81 0.28">50</text>
<text transform="translate(1327.8 627.2) scale(1.1178 1)" font-size="46.44" x="-24.13 0">75</text>
<text transform="translate(1475.75 627.2) scale(1.1203 1)" font-size="46.52" x="-36.28 -11.65 12.01">100</text>
<text transform="translate(1179.85 675) scale(1.1388 1)" font-size="45.56" x="-114.85 -81.88 -65.2 -44 -24.11 -11.31 9.76 20.43 50.09 70.69 82.39 95.13">Oracle Calls</text>
<text transform="translate(1179.85 47.2) scale(1.1249 1)" font-size="45.56" x="-152.21 -122.2 -101.66 -79.67 -66.66 -46.7 -24.89 5.05 26.94 46.69 61.82 77.67 90.06 113.23 125.82">AckleyRastrigin</text>
</g>
<g>
<path d="M1593.1 117.69 L1593.2 117.81 L1597 123.01 L1599.12 126.55 L1605.04 137.16 L1606.1 138.67 L1610.95 162.83 L1615.2 183.47 L1616.87 185.48 L1622.79 187.08 L1623 187.33 L1628.71 203.41 L1630.8 210.28 L1632.5 220.4 L1634.63 228.17 L1640.54 242.92 L1641.1 244.86 L1645.4 279.96 L1646.46 284.03 L1651.2 301.87 L1652.38 303.7 L1658.3 304.43 L1659.8 305.65 L1664.22 314.56 L1669.9 337.5 L1670.13 337.92 L1675.7 339.06 L1676.05 339.86 L1681.5 352.07 L1681.97 352.38 L1687.89 372.37 L1688.6 374.17 L1693.5 397.74 L1693.81 398.78 L1699.6 405.27 L1699.72 405.49 L1704.5 412.89 L1705.64 412.62 L1711.56 417.47 L1717.48 425.85 L1718 426.57 L1723.4 438.22 L1725.3 442.25 L1729.31 450.03 L1735.1 461.43 L1735.23 461.56 L1741.15 464.49 L1747.07 464.81 L1752.99 464.86 L1758.9 467.97 L1759.6 468.33 L1764.82 477.67 L1765.8 479.39 L1770.74 481.36 L1776.66 483.17 L1782.58 485.44 L1788.49 488.99 L1789 489.32 L1794.41 495.86 L1795.2 496.7 L1800.33 498.99 L1806.25 499.2 L1812.17 498.21 L1818.08 499.7 L1823.3 501.5 L1824 502.01 L1829.92 505.33 L1835.6 507.73 L1835.84 507.74 L1841.76 508.59 L1847.67 510.03 L1847.8 510.06 L1853.59 512.2 L1859.51 514.24 L1865.43 516.11 L1869.9 517.58 L1871.35 518.18 L1877.26 521.38 L1877.7 521.63 L1882.8 524.32 L1883.18 524.6 L1889.1 527.74 L1889.2 527.8 L1894.3 527.8 L1895.02 528 L1900.7 529.69 L1900.94 529.69 L1906.85 529.64 L1912.77 529.28 L1918.69 529.05 L1923.8 529.17 L1924.61 529.43 L1930.53 531.56 L1936.44 534.27 L1942.36 537.09 L1948.1 539.19 L1948.28 539.2 L1954.2 539.25 L1960.12 538.83 L1966.03 538.56 L1971.95 538.74 L1977.87 538.88 L1983.79 538.93 L1989.71 538.42 L1995.62 538.05 L2001.54 538.97 L2002 539.08 L2007.46 542.26 L2007.7 542.39 L2013.38 543.27 L2019.3 542.67 L2025.21 541.8 L2031.13 541.75 L2037.05 541.84 L2042.97 541.25 L2048.89 540.97 L2054.5 541.93 L2054.8 542.06 L2060.72 545.05 L2060.9 545.12 L2066.64 546.06 L2072.56 545.65 L2078.48 545.05 L2084.39 545.46 L2090.31 544.82 L2096.23 543.63 L2102.15 545.05 L2103.2 545.65 L2108.07 550.02 L2108.3 550.1 L2113.98 550.1 L2119.9 550.1 L2125.82 550.1 L2131.74 550.1 L2137.66 550.1 L2143.57 550.1 L2149.49 550.1 L2155.41 550.1 L2161.33 550.1 L2167.25 550.1 L2173.16 550.1 L2179.08 550.1 L2184.9 550.1 L2184.9 550.1 L2179.08 550.1 L2173.16 550.1 L2167.25 550.1 L2161.33 550.1 L2155.41 550.1 L2149.49 550.1 L2143.57 550.1 L2137.66 550.1 L2131.74 550.1 L2125.82 550.1 L2119.9 550.1 L2113.98 550.1 L2108.3 550.1 L2108.07 550.02 L2103.2 548.97 L2102.15 549.09 L2096.23 549.78 L2090.31 550.51 L2084.39 551.2 L2078.48 551.89 L2072.56 552.07 L2066.64 552.25 L2060.9 552.48 L2060.72 552.44 L2054.8 551.14 L2054.5 551.08 L2048.89 551.25 L2042.97 551.43 L2037.05 551.66 L2031.13 551.85 L2025.21 551.94 L2019.3 552.03 L2013.38 552.12 L2007.7 552.21 L2007.46 552.13 L2002 550.34 L2001.54 550.35 L1995.62 550.44 L1989.71 550.54 L1983.79 550.63 L1977.87 550.72 L1971.95 550.86 L1966.03 551.09 L1960.12 551.27 L1954.2 551.5 L1948.28 551.73 L1948.1 551.73 L1942.36 550.17 L1936.44 548.59 L1930.53 546.98 L1924.61 545.4 L1923.8 545.19 L1918.69 545.38 L1912.77 545.57 L1906.85 545.57 L1900.94 544.65 L1900.7 544.61 L1895.02 541.95 L1894.3 541.73 L1889.2 541.57 L1889.1 541.51 L1883.18 538.91 L1882.8 538.75 L1877.7 537.57 L1877.26 537.45 L1871.35 535.2 L1869.9 534.56 L1865.43 532.95 L1859.51 530.4 L1853.59 528.26 L1847.8 526.93 L1847.67 526.92 L1841.76 526.99 L1835.84 525.87 L1835.6 525.8 L1829.92 522.04 L1824 518.39 L1823.3 518.11 L1818.08 518.01 L1812.17 517.44 L1806.25 516.13 L1800.33 515.83 L1795.2 516.25 L1794.41 515.83 L1789 512.94 L1788.49 512.95 L1782.58 511.23 L1776.66 510.43 L1770.74 511.1 L1765.8 513.91 L1764.82 513.15 L1759.6 507.12 L1758.9 507.21 L1752.99 506.57 L1747.07 505.1 L1741.15 503.41 L1735.23 502.63 L1735.1 502.62 L1729.31 496.1 L1725.3 491.59 L1723.4 489.11 L1718 483.23 L1717.48 483.07 L1711.56 481.3 L1705.64 479.48 L1704.5 479.16 L1699.72 469.27 L1699.6 469.05 L1693.81 462.34 L1693.5 462 L1688.6 449.67 L1687.89 449.5 L1681.97 446.14 L1681.5 445.43 L1676.05 428.6 L1675.7 427.41 L1670.13 419.98 L1669.9 419.8 L1664.22 402.81 L1659.8 395.92 L1658.3 395.38 L1652.38 389.37 L1651.2 384.93 L1646.46 356.58 L1645.4 350.39 L1641.1 306.72 L1640.54 303.68 L1634.63 286.73 L1632.5 280.75 L1630.8 272.07 L1628.71 266.97 L1623 242.83 L1622.79 242.29 L1616.87 232.38 L1615.2 231.79 L1610.95 214.78 L1606.1 195.24 L1605.04 194.75 L1599.12 187.3 L1597 184.36 L1593.2 180.22 L1593.1 180.11Z" fill="#00ffff" stroke="#00ffff" stroke-width="8.33" stroke-linejoin="round" opacity="0.2"/>
<path d="M1597.26 131.77 L1597.26 178.49 L1610.02 193.85 L1618.71 228.64 L1620.45 230.24 L1626.88 241.32 L1632.69 265.69 L1634.79 270.88 L1636.53 279.65 L1644.57 302.61 L1645.24 306.32 L1649.53 349.84 L1655.28 384.05 L1656.12 387.24 L1660.6 391.78 L1662.82 393.05 L1667.9 400.85 L1673.56 417.6 L1679.58 425.89 L1685.14 443.15 L1690.69 446.07 L1692.11 447.43 L1697.09 459.77 L1703.03 466.69 L1707.44 475.68 L1720.41 479.83 L1737.18 498.68 L1742 499.33 L1753.72 502.46 L1761.1 503.23 L1762.47 504.1 L1766.5 508.72 L1769.86 507.03 L1776.88 506.27 L1783.44 507.16 L1790.17 508.94 L1796.08 512 L1800.54 511.67 L1806.46 511.97 L1812.82 513.32 L1824.14 514.03 L1826.18 514.85 L1837.26 521.9 L1842.13 522.82 L1848.22 522.79 L1854.52 524.2 L1878.55 533.48 L1884.09 534.79 L1890.17 537.43 L1895.54 537.75 L1901.95 540.59 L1907.17 541.4 L1924.46 541.08 L1948.58 547.55 L1971.85 546.69 L2001.9 546.18 L2008.34 548.04 L2055.35 547 L2053.26 545.94 L2048.63 545.15 L2036.99 546.01 L2025.53 545.96 L2013.09 547.42 L2006.63 546.41 L2000.5 543.03 L1995.43 542.24 L1983.76 543.09 L1966.06 542.73 L1954.49 543.4 L1947.84 543.35 L1940.93 541 L1928.95 535.42 L1923.09 533.32 L1900.64 533.85 L1893.73 531.96 L1888.35 531.88 L1868.45 521.49 L1846.58 514.05 L1840.97 512.68 L1834.42 511.72 L1827.88 508.96 L1821.35 505.23 L1816.89 503.69 L1812 502.46 L1806.52 503.35 L1798.63 502.79 L1792.79 500.1 L1786.21 492.48 L1780.75 489.2 L1769.2 485.23 L1763.22 482.66 L1762.18 481.45 L1756.57 471.45 L1751.94 469.01 L1740.09 468.52 L1732.37 464.58 L1731.39 463.32 L1721.6 444.16 L1714.39 428.69 L1708.48 420.33 L1704.47 417.05 L1702.76 416.68 L1701.49 415.77 L1696.2 407.72 L1690.17 400.81 L1689.42 398.59 L1684.59 375.36 L1678.34 354.78 L1672.76 342.71 L1668.17 341.59 L1666.94 340.59 L1666.09 339.19 L1660.29 316.01 L1656.52 308.4 L1650.34 307.33 L1649.12 306.28 L1647.31 303.35 L1641.27 280.46 L1636.6 244.28 L1630.61 229.27 L1628.39 221.09 L1626.74 211.24 L1619.73 190.57 L1614.62 188.98 L1612 186.13 L1611.22 184.7 L1602.19 140.35Z" fill="none" stroke="#fff" stroke-width="0.9" stroke-opacity="0.75" stroke-linejoin="round"/>
<path d="M1593.1 118.61 L1593.2 119.23 L1598.9 155.41 L1599.12 155.71 L1605.04 179.62 L1605.6 179.55 L1610.95 214.03 L1613.7 227.29 L1616.87 249.14 L1618.1 260.71 L1622.4 319.44 L1622.79 321.45 L1628.1 365.43 L1628.71 369.11 L1631 380.05 L1633.5 400.81 L1634.63 404.05 L1639.6 406.51 L1640.54 407.07 L1646.46 419.29 L1646.9 420.1 L1652.38 423.07 L1653.1 422.94 L1658.3 420.93 L1664.22 419.6 L1670.13 421.52 L1676.05 421.71 L1681.2 419.75 L1681.97 420.07 L1687.4 423.39 L1687.89 423.89 L1693.5 430.21 L1693.81 430.33 L1699.72 429.2 L1700.8 429.58 L1705.64 432.82 L1710.6 440.07 L1711.56 441.91 L1717.48 449.07 L1718 449.48 L1723.4 453.06 L1724.1 453.79 L1729 461.7 L1729.31 461.9 L1735.23 467.03 L1741.15 473.64 L1741.3 473.88 L1746.2 493.72 L1747.07 496.04 L1752.99 510.73 L1754.7 513.52 L1758.9 518.32 L1764.5 524.99 L1764.82 525.33 L1770.7 534.29 L1770.74 534.32 L1776.66 537.53 L1779.2 537.86 L1782.58 537.67 L1787.8 539.07 L1788.49 539.37 L1794.41 544.13 L1795.2 544.8 L1800.33 548.35 L1806.2 550.09 L1806.25 550.1 L1812.17 550.1 L1818.08 550.1 L1824 550.1 L1829.92 550.1 L1835.84 550.1 L1841.76 550.1 L1847.67 550.1 L1853.59 550.1 L1859.51 550.1 L1865.43 550.1 L1871.35 550.1 L1877.26 550.1 L1883.18 550.1 L1889.1 550.1 L1895.02 550.1 L1900.94 550.1 L1906.85 550.1 L1912.77 550.1 L1918.69 550.1 L1924.61 550.1 L1930.53 550.1 L1936.44 550.1 L1942.36 550.1 L1948.28 550.1 L1954.2 550.1 L1960.12 550.1 L1966.03 550.1 L1971.95 550.1 L1977.87 550.1 L1983.79 550.1 L1989.71 550.1 L1995.62 550.1 L2001.54 550.1 L2007.46 550.1 L2013.38 550.1 L2019.3 550.1 L2025.21 550.1 L2031.13 550.1 L2037.05 550.1 L2042.97 550.1 L2048.89 550.1 L2054.8 550.1 L2060.72 550.1 L2066.64 550.1 L2072.56 550.1 L2078.48 550.1 L2084.39 550.1 L2090.31 550.1 L2096.23 550.1 L2102.15 550.1 L2108.07 550.1 L2113.98 550.1 L2119.9 550.1 L2125.82 550.1 L2131.74 550.1 L2137.66 550.1 L2143.57 550.1 L2149.49 550.1 L2155.41 550.1 L2161.33 550.1 L2167.25 550.1 L2173.16 550.1 L2179.08 550.1 L2184.9 550.1 L2184.9 550.1 L2179.08 550.1 L2173.16 550.1 L2167.25 550.1 L2161.33 550.1 L2155.41 550.1 L2149.49 550.1 L2143.57 550.1 L2137.66 550.1 L2131.74 550.1 L2125.82 550.1 L2119.9 550.1 L2113.98 550.1 L2108.07 550.1 L2102.15 550.1 L2096.23 550.1 L2090.31 550.1 L2084.39 550.1 L2078.48 550.1 L2072.56 550.1 L2066.64 550.1 L2060.72 550.1 L2054.8 550.1 L2048.89 550.1 L2042.97 550.1 L2037.05 550.1 L2031.13 550.1 L2025.21 550.1 L2019.3 550.1 L2013.38 550.1 L2007.46 550.1 L2001.54 550.1 L1995.62 550.1 L1989.71 550.1 L1983.79 550.1 L1977.87 550.1 L1971.95 550.1 L1966.03 550.1 L1960.12 550.1 L1954.2 550.1 L1948.28 550.1 L1942.36 550.1 L1936.44 550.1 L1930.53 550.1 L1924.61 550.1 L1918.69 550.1 L1912.77 550.1 L1906.85 550.1 L1900.94 550.1 L1895.02 550.1 L1889.1 550.1 L1883.18 550.1 L1877.26 550.1 L1871.35 550.1 L1865.43 550.1 L1859.51 550.1 L1853.59 550.1 L1847.67 550.1 L1841.76 550.1 L1835.84 550.1 L1829.92 550.1 L1824 550.1 L1818.08 550.1 L1812.17 550.1 L1806.25 550.1 L1806.2 550.11 L1800.33 550.1 L1795.2 551.6 L1794.41 551.71 L1788.49 552.59 L1787.8 552.52 L1782.58 552.9 L1779.2 552.45 L1776.66 551.62 L1770.74 550.1 L1770.7 550.1 L1764.82 545.29 L1764.5 545.05 L1758.9 540.03 L1754.7 535.91 L1752.99 533.4 L1747.07 522.75 L1746.2 521.04 L1741.3 504.7 L1741.15 504.57 L1735.23 502.51 L1729.31 503.93 L1729 503.83 L1724.1 497.33 L1723.4 496.8 L1718 490.96 L1717.48 490.32 L1711.56 481.56 L1710.6 480.18 L1705.64 475.32 L1700.8 471.81 L1699.72 471.37 L1693.81 469.47 L1693.5 469.26 L1687.89 461.11 L1687.4 460.32 L1681.97 453.84 L1681.2 453.13 L1676.05 452.41 L1670.13 453.56 L1664.22 454.84 L1658.3 454.89 L1653.1 455.05 L1652.38 454.92 L1646.9 454.45 L1646.46 453.84 L1640.54 447.03 L1639.6 445.53 L1634.63 438.06 L1633.5 436.37 L1631 419.06 L1628.71 411.28 L1628.1 409.25 L1622.79 379.59 L1622.4 377.78 L1618.1 321.21 L1616.87 310.27 L1613.7 284.25 L1610.95 267.4 L1605.6 226.36 L1605.04 225.74 L1599.12 214.45 L1598.9 214.21 L1593.2 179.8 L1593.1 179.19Z" fill="#0000ff" stroke="#0000ff" stroke-width="8.33" stroke-linejoin="round" opacity="0.2"/>
<path d="M1597.26 165.55 L1597.26 178.85 L1602.86 212.6 L1608.67 223.54 L1606.83 214.67 L1601.8 182.23 L1601 180.62Z M1631.97 407.25 L1635.12 418.46 L1637.49 434.84 L1643.9 444.55 L1649.03 450.45 L1653.4 450.87 L1663.76 450.68 L1676.17 448.25 L1682.19 449.08 L1683.71 449.81 L1690.59 457.65 L1696.23 465.87 L1703.24 468.44 L1708.33 472.14 L1713.52 477.2 L1720.82 487.83 L1727.18 494.52 L1730.8 499.29 L1735.83 498.39 L1742.9 500.79 L1744.34 501.86 L1745.29 503.51 L1750.08 519.49 L1756.54 531.21 L1757.91 533.22 L1761.75 536.99 L1772.61 546.28 L1780.13 548.37 L1782.71 548.72 L1792.31 547.81 L1786.34 542.99 L1782.15 541.87 L1779.05 542.03 L1775.37 541.49 L1768.75 537.98 L1767.43 536.86 L1761.54 527.92 L1751.35 515.99 L1749.27 512.61 L1742.3 495.18 L1737.48 475.79 L1732.3 470.01 L1725.92 464.51 L1720.71 456.28 L1714.27 451.72 L1708.09 444.22 L1702.66 435.84 L1699.22 433.54 L1694.15 434.48 L1691.7 433.97 L1690.38 432.98 L1684.79 426.68 L1680.93 424.31 L1675.92 425.87 L1669.61 425.66 L1664.02 423.91 L1659.52 424.92 L1653.83 427.04 L1652.31 427.24 L1650.75 426.91 L1643.95 423.04 L1637.36 410.05Z" fill="none" stroke="#fff" stroke-width="0.9" stroke-opacity="0.75" stroke-linejoin="round"/>
<path d="M1593.2 580.4 V59.3 M1741.15 580.4 V59.3 M1889.1 580.4 V59.3 M2037.05 580.4 V59.3 M2185 580.4 V59.3 M1563.6 550.1 H2214.6 M1563.6 458.32 H2214.6 M1563.6 366.54 H2214.6 M1563.6 274.76 H2214.6 M1563.6 182.98 H2214.6 M1563.6 91.2 H2214.6" fill="none" stroke="#c2c2c2" stroke-width="1.67" stroke-dasharray="1.67 2.75"/>
<path d="M1593.1 148.9 L1597 153.3 L1606.1 166.3 L1615.2 211.7 L1623 222.1 L1630.8 245.4 L1632.5 255 L1641.1 283.8 L1645.4 318.4 L1651.2 340 L1659.8 353 L1669.9 380.4 L1675.7 383.2 L1681.5 398 L1688.6 404.9 L1693.5 420.8 L1699.6 431.8 L1704.5 444.1 L1718 453.9 L1725.3 464.9 L1735.1 477.9 L1759.6 485.3 L1765.8 495.1 L1789 500.4 L1795.2 505.3 L1823.3 510.2 L1835.6 517.1 L1847.8 519.6 L1869.9 526.9 L1877.7 530.1 L1882.8 532 L1889.2 535.6 L1894.3 535.6 L1900.7 537.4 L1923.8 537.4 L1948.1 544.8 L2002 544.8 L2007.7 546.8 L2054.5 546.8 L2060.9 548.4 L2103.2 548.4 L2108.3 550.1 L2184.9 550.1" fill="none" stroke="#00ffff" stroke-width="4.7" stroke-linejoin="round" stroke-linecap="square"/>
<path d="M1593.1 148.9 L1598.9 184.5 L1605.6 192.3 L1613.7 255 L1618.1 298.2 L1622.4 358.7 L1628.1 390.4 L1631 400 L1633.5 417.1 L1639.6 425.7 L1646.9 436.7 L1653.1 438 L1681.2 438 L1687.4 442.9 L1693.5 450.2 L1700.8 453.4 L1710.6 460.8 L1718 469.8 L1724.1 476.4 L1729 484.5 L1741.3 492.6 L1746.2 507.8 L1754.7 522.5 L1764.5 534.7 L1770.7 541.6 L1779.2 544.5 L1787.8 545.8 L1795.2 548.2 L1806.2 550.1 L2184.9 550.1" fill="none" stroke="#0000ff" stroke-width="4.7" stroke-linejoin="round" stroke-linecap="square"/>
<path d="M1593.2 580.4 v7.2 M1741.15 580.4 v7.2 M1889.1 580.4 v7.2 M2037.05 580.4 v7.2 M2185 580.4 v7.2 M1563.6 550.1 h-7.2 M1563.6 458.32 h-7.2 M1563.6 366.54 h-7.2 M1563.6 274.76 h-7.2 M1563.6 182.98 h-7.2 M1563.6 91.2 h-7.2" fill="none" stroke="#000" stroke-width="2.2"/>
<path d="M1563.6 59.3 V580.4 H2214.6" fill="none" stroke="#000" stroke-width="4.3" stroke-linecap="square" stroke-linejoin="miter"/>
<text transform="translate(1593.2 627.2) scale(1.0642 1)" font-size="46.52" x="-11.66">0</text>
<text transform="translate(1741.15 627.2) scale(1.0989 1)" font-size="46.7" x="-24.04 0.14">25</text>
<text transform="translate(1889.1 627.2) scale(1.1109 1)" font-size="46.52" x="-23.81 0.28">50</text>
<text transform="translate(2037.05 627.2) scale(1.1178 1)" font-size="46.44" x="-24.13 0">75</text>
<text transform="translate(2185 627.2) scale(1.1203 1)" font-size="46.52" x="-36.28 -11.65 12.01">100</text>
<text transform="translate(1889.1 675) scale(1.1388 1)" font-size="45.56" x="-114.85 -81.88 -65.2 -44 -24.11 -11.31 9.76 20.43 50.09 70.69 82.39 95.13">Oracle Calls</text>
<text transform="translate(1889.1 47.2) scale(1.1191 1)" font-size="45.56" x="-177.14 -147.01 -126.36 -104.27 -91.17 -71.11 -49.16 -21.02 2.26 21.46 43.3 67.65 92.21 108.15 131.01 151.66">AckleyRosenbrock</text>
</g>
<g>
<path d="M2302.4 83.3 L2308.32 83.41 L2312.4 82.92 L2314.24 84.03 L2320.15 86.5 L2326.07 89.9 L2331.1 93.72 L2331.99 94.26 L2337.91 100.02 L2343.83 105.83 L2349.74 108.19 L2352.7 108.92 L2355.66 111.4 L2361.58 117.27 L2367.1 125.96 L2367.5 126.08 L2373.42 127.61 L2379.33 129.13 L2384.4 130.2 L2385.25 130.61 L2391.17 134.51 L2391.6 134.79 L2397.09 143.81 L2398.8 146.01 L2403.01 146.4 L2406 146.1 L2408.92 144.93 L2414.7 144.76 L2414.84 144.82 L2420.76 147.64 L2423.3 148.3 L2426.68 148.48 L2432.6 150.16 L2437.7 151.96 L2438.51 152.09 L2444.43 152.99 L2450.35 152.34 L2456.27 152.23 L2457.9 152.73 L2462.19 154.83 L2464.5 156.35 L2468.1 159.06 L2474.02 161.81 L2479.94 163.69 L2485.86 165.66 L2491.78 166.67 L2491.9 166.69 L2497.69 165.59 L2503.61 165.44 L2509.53 165.6 L2515.45 165.76 L2521.37 165.79 L2526.5 165.77 L2527.28 165.86 L2533.2 166.56 L2539.12 167.3 L2545.04 168 L2545.2 168.02 L2550.96 174.01 L2556.87 180.42 L2562.5 186.4 L2562.79 186.42 L2568.71 186.8 L2574.63 187.37 L2580.55 188.16 L2581.3 188.22 L2586.46 190.39 L2591.3 192.51 L2592.38 193.38 L2598.3 198.4 L2598.6 198.64 L2604.22 200.97 L2608.6 202.34 L2610.14 202.16 L2615.8 200.93 L2616.05 200.94 L2621.97 201.92 L2627.89 203.3 L2633.81 204.5 L2636 205.02 L2639.73 205.33 L2645.64 205.58 L2651.56 205.16 L2657.48 205 L2663.4 206.82 L2669.32 216.13 L2670.6 217.85 L2675.23 219.29 L2681.15 217.6 L2687.07 216.69 L2692.99 216.93 L2698.91 217.16 L2700 217.27 L2704.82 218.08 L2710.74 219.35 L2716.66 219.07 L2720.2 217.79 L2722.58 220.93 L2727.8 231.12 L2728.5 231.95 L2733.8 242.02 L2734.41 243.63 L2740.33 253.09 L2745.9 260.39 L2746.25 261.1 L2752 283.53 L2752.17 284.81 L2756.5 318 L2758.09 325.06 L2758.2 325.53 L2764 347.49 L2764.3 348.52 L2769.92 365.98 L2770.4 367.89 L2775.4 389.96 L2775.84 391.2 L2781.5 399.71 L2781.76 399.93 L2787.68 402.53 L2793.59 401.36 L2796.6 401.77 L2799.51 402.55 L2805.43 405.29 L2805.7 405.36 L2811.35 410.7 L2816.8 414.42 L2817.27 414.37 L2823.18 416.68 L2828.9 422.47 L2829.1 422.69 L2835.02 426.72 L2840.94 428.41 L2843 428.86 L2846.86 429.4 L2852.77 429.9 L2858.69 430.59 L2859.1 430.61 L2864.61 431.07 L2870.53 431.93 L2871.2 432.27 L2876.45 434.81 L2882.36 437.53 L2883.4 437.65 L2888.28 437.45 L2894.2 436.94 L2894.2 456.17 L2888.28 455.81 L2883.4 455.02 L2882.36 454.69 L2876.45 453.67 L2871.2 453.08 L2870.53 452.99 L2864.61 452 L2859.1 450.77 L2858.69 450.69 L2852.77 449.17 L2846.86 447.62 L2843 446.96 L2840.94 446.45 L2835.02 445.67 L2829.1 444.99 L2828.9 444.97 L2823.18 444.59 L2817.27 444.1 L2816.8 444.06 L2811.35 439.15 L2805.7 434.12 L2805.43 434.06 L2799.51 432.93 L2796.6 432.65 L2793.59 432.75 L2787.68 432.91 L2781.76 432.74 L2781.5 432.76 L2775.84 429.66 L2775.4 429.99 L2770.4 425.84 L2769.92 425.65 L2764.3 418.94 L2764 418.49 L2758.2 411.74 L2758.09 411.55 L2756.5 409.13 L2752.17 388.6 L2752 387.77 L2746.25 380 L2745.9 379.12 L2740.33 369.14 L2734.41 361.16 L2733.8 360.38 L2728.5 357.5 L2727.8 356.96 L2722.58 348.87 L2720.2 344.5 L2716.66 343.93 L2710.74 343.07 L2704.82 344.1 L2700 343.92 L2698.91 343.96 L2692.99 343.17 L2687.07 342.7 L2681.15 342.56 L2675.23 342.51 L2670.6 342.36 L2669.32 340.99 L2663.4 334.58 L2657.48 333.45 L2651.56 332.82 L2645.64 332.33 L2639.73 331.52 L2636 331.27 L2633.81 330.79 L2627.89 329.36 L2621.97 327.61 L2616.05 324.75 L2615.8 324.62 L2610.14 323.18 L2608.6 323.22 L2604.22 321.47 L2598.6 320.19 L2598.3 320.01 L2592.38 314.21 L2591.3 313.03 L2586.46 309.53 L2581.3 307.91 L2580.55 307.93 L2574.63 308.7 L2568.71 307.54 L2562.79 306.75 L2562.5 306.67 L2556.87 299.64 L2550.96 290.11 L2545.2 285.02 L2545.04 285.01 L2539.12 287.35 L2533.2 282.43 L2527.28 280.36 L2526.5 280.55 L2521.37 282.4 L2515.45 284.25 L2509.53 284.45 L2503.61 284.2 L2497.69 283.67 L2491.9 282.79 L2491.78 282.73 L2485.86 278.64 L2479.94 273.73 L2474.02 269.28 L2468.1 263.87 L2464.5 261.27 L2462.19 259.82 L2457.9 258.49 L2456.27 258.28 L2450.35 260.96 L2444.43 260.01 L2438.51 254.79 L2437.7 254.03 L2432.6 248.32 L2426.68 245.67 L2423.3 246.97 L2420.76 247.41 L2414.84 244.95 L2414.7 244.87 L2408.92 244.28 L2406 243.86 L2403.01 242.54 L2398.8 240.42 L2397.09 237.52 L2391.6 227.26 L2391.17 226.89 L2385.25 220.55 L2384.4 219.86 L2379.33 217.06 L2373.42 215.81 L2367.5 213.64 L2367.1 213.45 L2361.58 203.77 L2355.66 190.65 L2352.7 184.15 L2349.74 179.41 L2343.83 169.71 L2337.91 161.38 L2331.99 152.91 L2331.1 151.63 L2326.07 143.68 L2320.15 134.64 L2314.24 125.75 L2312.4 122.92 L2308.32 119.62 L2302.4 114.5Z" fill="#00ffff" stroke="#00ffff" stroke-width="8.33" stroke-linejoin="round" opacity="0.2"/>
<path d="M2306.57 87.54 L2306.57 112.6 L2315.63 120.3 L2334.57 149.33 L2347.39 167.55 L2356.49 182.42 L2365.3 201.88 L2370 210.12 L2374.57 211.8 L2380.97 213.23 L2387.88 217.32 L2395.08 224.97 L2401.77 237.25 L2407.16 239.82 L2415.56 240.8 L2421.24 243.1 L2425.98 241.57 L2428.38 241.87 L2435.06 244.95 L2440.68 251.12 L2446.28 256.09 L2449.78 256.65 L2454.91 254.35 L2456.42 254.12 L2458.79 254.43 L2463.76 255.97 L2470.54 260.49 L2476.68 266.07 L2488.38 275.32 L2493.44 278.81 L2503.89 280.04 L2514.74 280.11 L2525.09 276.63 L2527.49 276.2 L2535.25 278.81 L2539.89 282.57 L2544.31 280.91 L2546.91 281.22 L2554.27 287.58 L2560.28 297.23 L2564.75 302.81 L2574.77 304.48 L2581.62 303.75 L2588.13 305.71 L2594.07 309.92 L2600.52 316.36 L2605.46 317.5 L2609.34 319.03 L2611.17 319.14 L2616.83 320.59 L2623.48 323.71 L2634.74 326.73 L2657.92 329.31 L2664.61 330.59 L2666.46 331.75 L2672.46 338.25 L2687.4 338.55 L2699.12 339.78 L2704.54 339.92 L2710.9 338.91 L2722.06 340.77 L2723.64 342.15 L2730.88 354.05 L2736.8 357.49 L2743.97 367.11 L2749.92 377.96 L2755.8 386.07 L2760.41 407.5 L2772.51 422.25 L2776.59 425.56 L2782.57 428.6 L2797 428.51 L2807.01 430.16 L2808.47 431.01 L2818.55 440.03 L2829.44 440.84 L2841.48 442.32 L2865.41 447.91 L2890.03 451.74 L2890.03 441.48 L2883.57 441.81 L2881.44 441.59 L2869.26 435.96 L2842.42 432.98 L2833.46 430.58 L2826.38 425.85 L2820.84 420.24 L2814.45 417.86 L2808.74 413.95 L2803.44 408.95 L2798.09 406.48 L2795.78 405.87 L2793.71 405.59 L2788.48 406.61 L2786.81 406.6 L2779.72 403.56 L2778.26 402.32 L2772.37 393.51 L2771.47 391.34 L2765.91 367.13 L2760 348.65 L2754.17 326.6 L2752.37 318.53 L2747.9 284.33 L2742.33 262.57 L2736.8 255.3 L2730.88 245.84 L2718.73 222.75 L2716.86 223.23 L2710.58 223.52 L2699.44 221.4 L2687.31 220.87 L2682.04 221.68 L2674.78 223.43 L2669.36 221.83 L2667.85 220.98 L2660.71 210.35 L2656.91 209.18 L2645.46 209.75 L2635.66 209.17 L2615.99 205.15 L2610.62 206.3 L2607.35 206.32 L2596.67 202.33 L2589.12 196.11 L2580.31 192.32 L2562.1 190.54 L2560.48 190.04 L2543.22 171.98 L2526.26 169.94 L2503.61 169.6 L2498.14 169.75 L2491.14 170.79 L2484.85 169.7 L2472.26 165.59 L2465.96 162.63 L2460.12 158.45 L2455.68 156.41 L2444.53 157.16 L2437.04 156.07 L2426 152.61 L2422.67 152.42 L2419.71 151.68 L2413.83 148.95 L2409.78 149.07 L2406.8 150.18 L2403.43 150.54 L2397.58 149.99 L2395.79 148.89 L2393.8 146.36 L2388.53 137.76 L2383.06 134.18 L2365.09 129.61 L2363.58 128.19 L2358.31 119.9 L2350.77 112.73 L2348.19 112.06 L2341.55 109.32 L2329.42 97.57 L2323.76 93.38 L2318.3 90.24 L2311.47 87.22Z" fill="none" stroke="#fff" stroke-width="0.9" stroke-opacity="0.75" stroke-linejoin="round"/>
<path d="M2302.4 83.3 L2308.32 82.6 L2313.8 82.42 L2314.24 82.8 L2320.15 86.46 L2321 87.07 L2326.07 85.05 L2326.8 84.8 L2331.99 90.58 L2332.6 91.25 L2337.91 92.58 L2338.3 92.65 L2343.83 97.02 L2349.74 100.45 L2351.3 101.46 L2355.66 101.58 L2358.5 102.17 L2361.58 102.29 L2367.5 103.61 L2368.6 103.82 L2372.9 102.99 L2373.42 103.19 L2379.33 104.54 L2383 106.17 L2385.25 106.77 L2391.17 108.63 L2393.1 109.23 L2397.09 109.77 L2398.8 109.91 L2403.01 111.5 L2403.2 111.56 L2408.9 111.89 L2408.92 111.89 L2414.84 114.01 L2420.76 116.27 L2426.2 118.85 L2426.68 118.87 L2432.6 120.31 L2438.51 121.62 L2443.5 118.74 L2444.43 120.14 L2449.3 124.88 L2450.35 126.62 L2456.27 142.41 L2456.5 143.21 L2462.19 157.32 L2463.7 160.01 L2468.1 171.02 L2469.4 173.77 L2473.8 190.42 L2474.02 190.9 L2479.94 203.71 L2480.4 205.05 L2485.86 223.93 L2488.7 237.56 L2491.78 245.29 L2496.9 252.17 L2497.69 253.99 L2502.7 260.49 L2503.61 260.49 L2509.53 263.27 L2509.6 263.33 L2515.4 270.49 L2515.45 270.63 L2520 282.43 L2521.37 284.26 L2526.9 289.14 L2527.28 289.29 L2533.2 291.91 L2538.4 294.29 L2539.12 294.62 L2545.04 297.3 L2545.9 297.68 L2550.96 297.94 L2555 298.74 L2556.87 302.62 L2562.2 316.75 L2562.79 317.21 L2568.71 320.41 L2573.8 320.12 L2574.63 320.7 L2580.55 329.23 L2581 330.03 L2586.46 344.66 L2586.7 345.22 L2592.38 349.78 L2596.8 350.75 L2598.3 352.24 L2604 362.31 L2604.22 362.65 L2609.8 371.94 L2610.14 372.25 L2614.1 371.05 L2616.05 371.29 L2621.97 372.8 L2622.8 373.28 L2627.89 374.8 L2633.81 375.74 L2639.73 376.36 L2645.64 376.79 L2648.7 377.13 L2651.56 377.06 L2657.48 377.06 L2663.4 377.06 L2669.32 377.06 L2675.23 377.06 L2681.15 377.06 L2686.2 377.14 L2687.07 377.39 L2692.99 379.48 L2694.8 380.16 L2698.91 380.92 L2704.82 381.46 L2709.2 381.83 L2710.74 382.22 L2716.66 383.89 L2720.8 384.76 L2722.58 384.73 L2728.5 384.39 L2734.41 384.15 L2740.1 383.39 L2740.33 383.4 L2746.1 384.48 L2746.25 384.49 L2752.17 385.45 L2758.09 386.91 L2760.3 387.06 L2764 388.24 L2769.3 389.1 L2769.92 389 L2775.4 388.44 L2775.84 388.65 L2781.76 391.8 L2782.5 392.28 L2787.68 392.94 L2793.59 394.2 L2794.6 394.3 L2799.51 396.04 L2800.6 396.39 L2805.43 399.22 L2811.35 402.82 L2816.8 405.75 L2817.27 405.74 L2822.8 405.44 L2823.18 405.67 L2828.9 408.76 L2829.1 408.93 L2835.02 414.58 L2840.94 421.55 L2841 421.61 L2846 422.29 L2846.86 423.01 L2852.77 427.84 L2855.1 430.48 L2858.69 434.08 L2863.2 438.38 L2864.61 439.48 L2870.53 442.93 L2871.2 443.27 L2875.3 443.67 L2876.45 444.18 L2882.36 447.22 L2883.4 447.79 L2888.28 449.36 L2894.2 451.23 L2894.2 457.88 L2888.28 457.26 L2883.4 456.97 L2882.36 456.67 L2876.45 454.78 L2875.3 454.38 L2871.2 454.4 L2870.53 454.12 L2864.61 451.64 L2863.2 451.06 L2858.69 448.4 L2855.1 446.25 L2852.77 444.54 L2846.86 440.27 L2846 439.59 L2841 439.14 L2840.94 439.08 L2835.02 433.39 L2829.1 427.66 L2828.9 427.46 L2823.18 423.89 L2822.8 423.65 L2817.27 423.82 L2816.8 423.84 L2811.35 420.99 L2805.43 417.85 L2800.6 415.14 L2799.51 414.81 L2794.6 413.34 L2793.59 413.29 L2787.68 412.99 L2782.5 412.74 L2781.76 412.31 L2775.84 408.94 L2775.4 408.7 L2769.92 408.91 L2769.3 408.93 L2764 407.28 L2760.3 405.96 L2758.09 405.73 L2752.17 404.63 L2746.25 403.67 L2746.1 403.65 L2740.33 401.9 L2740.1 401.81 L2734.41 400.95 L2728.5 401.24 L2722.58 402.44 L2720.8 402.66 L2716.66 402.2 L2710.74 400.72 L2709.2 400.35 L2704.82 400.04 L2698.91 399.59 L2694.8 399.06 L2692.99 398.47 L2687.07 396.62 L2686.2 396.38 L2681.15 396.34 L2675.23 396.34 L2669.32 396.34 L2663.4 396.34 L2657.48 396.34 L2651.56 396.34 L2648.7 396.34 L2645.64 395.92 L2639.73 395.12 L2633.81 394.32 L2627.89 393.52 L2622.8 393.27 L2621.97 392.99 L2616.05 390.15 L2614.1 389.43 L2610.14 389.64 L2609.8 389.8 L2604.22 388.25 L2604 388.21 L2598.3 385.69 L2596.8 384.83 L2592.38 385.71 L2586.7 386.53 L2586.46 386.19 L2581 378.47 L2580.55 378.23 L2574.63 375.53 L2573.8 374.94 L2568.71 375.11 L2562.79 374.07 L2562.2 373.95 L2556.87 362.88 L2555 359.4 L2550.96 359.47 L2545.9 363.14 L2545.04 363.43 L2539.12 363.23 L2538.4 362.91 L2533.2 360.61 L2527.28 357.76 L2526.9 357.57 L2521.37 352.04 L2520 350.83 L2515.45 341.07 L2515.4 340.96 L2509.6 336.81 L2509.53 336.78 L2503.61 334.92 L2502.7 334.72 L2497.69 327.09 L2496.9 325.34 L2491.78 318.89 L2488.7 316.23 L2485.86 307.26 L2480.4 296.04 L2479.94 295.36 L2474.02 281.48 L2473.8 280.85 L2469.4 261.09 L2468.1 257.44 L2463.7 247.31 L2462.19 244.92 L2456.5 235.75 L2456.27 235.15 L2450.35 215.97 L2449.3 212.44 L2444.43 199.44 L2443.5 197.36 L2438.51 196.6 L2432.6 197.45 L2426.68 198.58 L2426.2 198.6 L2420.76 196.53 L2414.84 193.4 L2408.92 190.27 L2408.9 190.26 L2403.2 188.88 L2403.01 188.77 L2398.8 186.27 L2397.09 185.76 L2393.1 184.7 L2391.17 183.84 L2385.25 182.17 L2383 181.78 L2379.33 180.49 L2373.42 176.07 L2372.9 175.5 L2368.6 173.3 L2367.5 172.31 L2361.58 167.91 L2358.5 166.22 L2355.66 164.18 L2351.3 160.81 L2349.74 158.63 L2343.83 147.91 L2338.3 137.11 L2337.91 136.59 L2332.6 133.61 L2331.99 132.75 L2326.8 128.02 L2326.07 128.41 L2321 125.64 L2320.15 124.22 L2314.24 111.81 L2313.8 111.71 L2308.32 115.46 L2302.4 114.5Z" fill="#0000ff" stroke="#0000ff" stroke-width="8.33" stroke-linejoin="round" opacity="0.2"/>
<path d="M2306.57 87 L2306.57 110.96 L2307.34 111.08 L2311.81 108.05 L2313.02 107.62 L2315.15 107.75 L2317 108.69 L2318 110.02 L2323.99 122.52 L2326.46 123.88 L2328.98 124.47 L2335.46 130.44 L2340.32 133.19 L2341.24 134.1 L2353.27 156.4 L2354.33 157.88 L2358.15 160.84 L2364.06 164.57 L2370.98 169.84 L2375.12 171.98 L2381.31 176.77 L2400.31 182.39 L2404.76 184.97 L2410.55 186.44 L2422.48 192.73 L2426.69 194.33 L2438.73 192.44 L2444.53 193.32 L2446.63 194.61 L2448.33 197.98 L2453.2 210.98 L2460.25 233.89 L2467.38 245.36 L2472.02 256.04 L2473.47 260.19 L2477.91 279.98 L2483.62 293.36 L2489.61 305.44 L2492.32 313.85 L2494.79 316.01 L2500.16 322.76 L2505.3 331.08 L2511.62 333.17 L2518.47 338.15 L2523.41 348.28 L2529.36 354.14 L2540.07 359.09 L2544.19 359.23 L2548.52 356.1 L2550.05 355.41 L2555.34 355.25 L2556.92 355.7 L2558.67 357.43 L2565.04 370.24 L2569 370.93 L2574.81 370.9 L2582.47 374.54 L2584.16 375.75 L2588.63 382.04 L2596.41 380.68 L2597.68 380.76 L2605.31 384.23 L2609.84 385.49 L2615.55 385.52 L2623.59 389.14 L2628.45 389.4 L2648.98 392.17 L2686.59 392.23 L2695.72 394.98 L2709.84 396.23 L2717.4 398.09 L2720.78 398.46 L2727.98 397.1 L2735.04 396.83 L2741.13 397.78 L2747.03 399.58 L2761.23 401.9 L2769.88 404.75 L2776.55 404.7 L2783.71 408.63 L2795.8 409.35 L2802.23 411.3 L2817.76 419.64 L2823.08 419.5 L2824.65 419.92 L2831.47 424.18 L2842.83 435.12 L2847.91 435.89 L2857.4 442.77 L2865.06 447.32 L2872.02 450.23 L2876.21 450.32 L2884.1 452.84 L2885.79 452.94 L2881.76 451.61 L2874.22 447.75 L2869.66 447.14 L2862.06 442.77 L2855.74 437.02 L2849.87 430.85 L2844.25 426.26 L2840.06 425.67 L2838.32 424.8 L2831.99 417.44 L2826.46 412.18 L2821.82 409.67 L2816.9 409.92 L2815.21 409.61 L2798.89 400.22 L2793.68 398.39 L2781.24 396.25 L2774.6 392.71 L2768.63 393.21 L2763.33 392.35 L2759.51 391.18 L2757.09 390.95 L2751.34 389.53 L2740.07 387.59 L2734.58 388.31 L2720.4 388.91 L2708.5 385.95 L2698.53 385.06 L2694.04 384.25 L2685.59 381.3 L2648.24 381.27 L2633.38 379.88 L2627.24 378.92 L2615.28 375.39 L2614.46 375.29 L2610.51 376.4 L2608.05 375.85 L2606.23 374.09 L2594.96 354.79 L2590.08 353.25 L2583.26 347.57 L2577.21 331.79 L2572.12 324.39 L2568.56 324.57 L2567.08 324.24 L2560.51 320.7 L2558.85 319.22 L2552.15 302.42 L2544.58 301.63 L2524.14 292.27 L2518.31 287.08 L2516.45 284.62 L2511.75 272.6 L2506.92 266.64 L2502.68 264.65 L2501.06 264.32 L2499.68 263.35 L2494.39 256.53 L2493.27 254.27 L2488.23 247.47 L2484.71 238.76 L2481.81 224.94 L2476.43 206.31 L2469.88 191.84 L2465.47 175.2 L2459.93 161.81 L2458.33 158.88 L2446.58 128.44 L2442.53 124.11 L2439.89 125.55 L2438.38 125.78 L2425.21 122.89 L2419.12 120.1 L2408.06 116.01 L2402.57 115.68 L2397.88 114.01 L2392.2 113.3 L2381.61 110.1 L2378.01 108.51 L2372.63 107.29 L2368.21 107.97 L2361.04 106.44 L2350.06 105.44 L2341.74 100.62 L2336.48 96.52 L2330.46 94.82 L2325.61 89.71 L2322.15 91.07 L2320.49 91.2 L2318.92 90.68 L2312.52 86.63Z" fill="none" stroke="#fff" stroke-width="0.9" stroke-opacity="0.75" stroke-linejoin="round"/>
<path d="M2302.4 580.4 V59.3 M2450.35 580.4 V59.3 M2598.3 580.4 V59.3 M2746.25 580.4 V59.3 M2894.2 580.4 V59.3 M2272.8 550.1 H2923.8 M2272.8 458.32 H2923.8 M2272.8 366.54 H2923.8 M2272.8 274.76 H2923.8 M2272.8 182.98 H2923.8 M2272.8 91.2 H2923.8" fill="none" stroke="#c2c2c2" stroke-width="1.67" stroke-dasharray="1.67 2.75"/>
<path d="M2302.4 98.9 L2312.4 103.2 L2331.1 124.8 L2352.7 146.5 L2367.1 169.5 L2384.4 175.3 L2391.6 179.6 L2398.8 191.1 L2406 194 L2414.7 194.9 L2423.3 199.8 L2437.7 205 L2457.9 208.4 L2464.5 210.7 L2491.9 222.8 L2526.5 225.1 L2545.2 228.6 L2562.5 246.7 L2581.3 248.2 L2591.3 252.5 L2598.6 258.3 L2608.6 262.6 L2615.8 262.6 L2636 267.8 L2663.4 270.7 L2670.6 278.5 L2700 279.9 L2720.2 282.2 L2727.8 295.8 L2733.8 301.9 L2745.9 323.1 L2752 338.2 L2756.5 365.4 L2758.2 370.2 L2764.3 384.3 L2770.4 396.4 L2775.4 408.5 L2781.5 413.6 L2796.6 416.6 L2805.7 419.6 L2816.8 430.7 L2828.9 433.1 L2843 436.8 L2859.1 439.8 L2871.2 442.4 L2883.4 444.8 L2894.2 445.2" fill="none" stroke="#00ffff" stroke-width="4.7" stroke-linejoin="round" stroke-linecap="square"/>
<path d="M2302.4 98.9 L2313.8 100.3 L2321 107.6 L2326.8 107 L2332.6 114.8 L2338.3 117.6 L2351.3 132 L2358.5 135.5 L2368.6 138.7 L2372.9 138.4 L2383 143.6 L2393.1 147 L2398.8 147.9 L2403.2 149.9 L2408.9 150.8 L2426.2 158.6 L2443.5 158.8 L2449.3 171 L2456.5 191.1 L2463.7 204.1 L2469.4 218.5 L2473.8 237 L2480.4 254 L2488.7 280 L2496.9 286.9 L2502.7 297.3 L2509.6 300.7 L2515.4 305.3 L2520 315.7 L2526.9 322.6 L2538.4 328.4 L2545.9 332.2 L2555 333.3 L2562.2 347.7 L2573.8 349.2 L2581 355.5 L2586.7 365.6 L2596.8 367.9 L2604 375.1 L2609.8 379.5 L2614.1 379.5 L2622.8 383.2 L2648.7 386.7 L2686.2 386.7 L2694.8 389 L2709.2 390.1 L2720.8 393 L2740.1 393.4 L2746.1 394.8 L2760.3 396 L2769.3 399 L2775.4 399 L2782.5 403.1 L2794.6 403.7 L2800.6 405.5 L2816.8 414.6 L2822.8 414.6 L2828.9 418.6 L2841 430.7 L2846 431.3 L2855.1 438.8 L2863.2 444.4 L2871.2 448.5 L2875.3 448.9 L2883.4 452.5 L2894.2 454.9" fill="none" stroke="#0000ff" stroke-width="4.7" stroke-linejoin="round" stroke-linecap="square"/>
<path d="M2302.4 580.4 v7.2 M2450.35 580.4 v7.2 M2598.3 580.4 v7.2 M2746.25 580.4 v7.2 M2894.2 580.4 v7.2 M2272.8 550.1 h-7.2 M2272.8 458.32 h-7.2 M2272.8 366.54 h-7.2 M2272.8 274.76 h-7.2 M2272.8 182.98 h-7.2 M2272.8 91.2 h-7.2" fill="none" stroke="#000" stroke-width="2.2"/>
<path d="M2272.8 59.3 V580.4 H2923.8" fill="none" stroke="#000" stroke-width="4.3" stroke-linecap="square" stroke-linejoin="miter"/>
<text transform="translate(2302.4 627.2) scale(1.0642 1)" font-size="46.52" x="-11.66">0</text>
<text transform="translate(2450.35 627.2) scale(1.0989 1)" font-size="46.7" x="-24.04 0.14">25</text>
<text transform="translate(2598.3 627.2) scale(1.1109 1)" font-size="46.52" x="-23.81 0.28">50</text>
<text transform="translate(2746.25 627.2) scale(1.1178 1)" font-size="46.44" x="-24.13 0">75</text>
<text transform="translate(2894.2 627.2) scale(1.1203 1)" font-size="46.52" x="-36.28 -11.65 12.01">100</text>
<text transform="translate(2598.3 675) scale(1.1388 1)" font-size="45.56" x="-114.85 -81.88 -65.2 -44 -24.11 -11.31 9.76 20.43 50.09 70.69 82.39 95.13">Oracle Calls</text>
<text transform="translate(2598.3 47.2) scale(1.1242 1)" font-size="46.7" x="-126.56 -96.35 -79.48 -57.73 -34.48 -22 0.47 30.19 55.3 73.02 88.92 101.39">BraninCurrin</text>
</g>
<rect x="960.3" y="704.9" width="1028.5" height="74.3" fill="#fff" stroke="#d6d6d6" stroke-width="2.6"/>
<path d="M977.1 738.5 H1060.3" fill="none" stroke="#00ffff" stroke-width="4.7" stroke-linecap="square"/>
<path d="M1723.4 738.5 H1806.6" fill="none" stroke="#0000ff" stroke-width="4.7" stroke-linecap="square"/>
<text transform="translate(1092.48 753.2) scale(1.1202 1)" font-size="45.56" x="-1.54 19.79 48.44 86.51 118.22 129.68 145.24 163.58 199.8 220.67 232.57 244.88 256.29 269.37 291.19 314.94 339.8 354.13 377.97 396.63 418.1 438.96 452.05 473.06">TAMO (small lengthscale)</text>
<text transform="translate(1839.48 753.2) scale(0.9892 1)" font-size="46.7" x="-0.24 24.19 57.02 99.74">TAMO</text>
</svg>
    </body></html>
